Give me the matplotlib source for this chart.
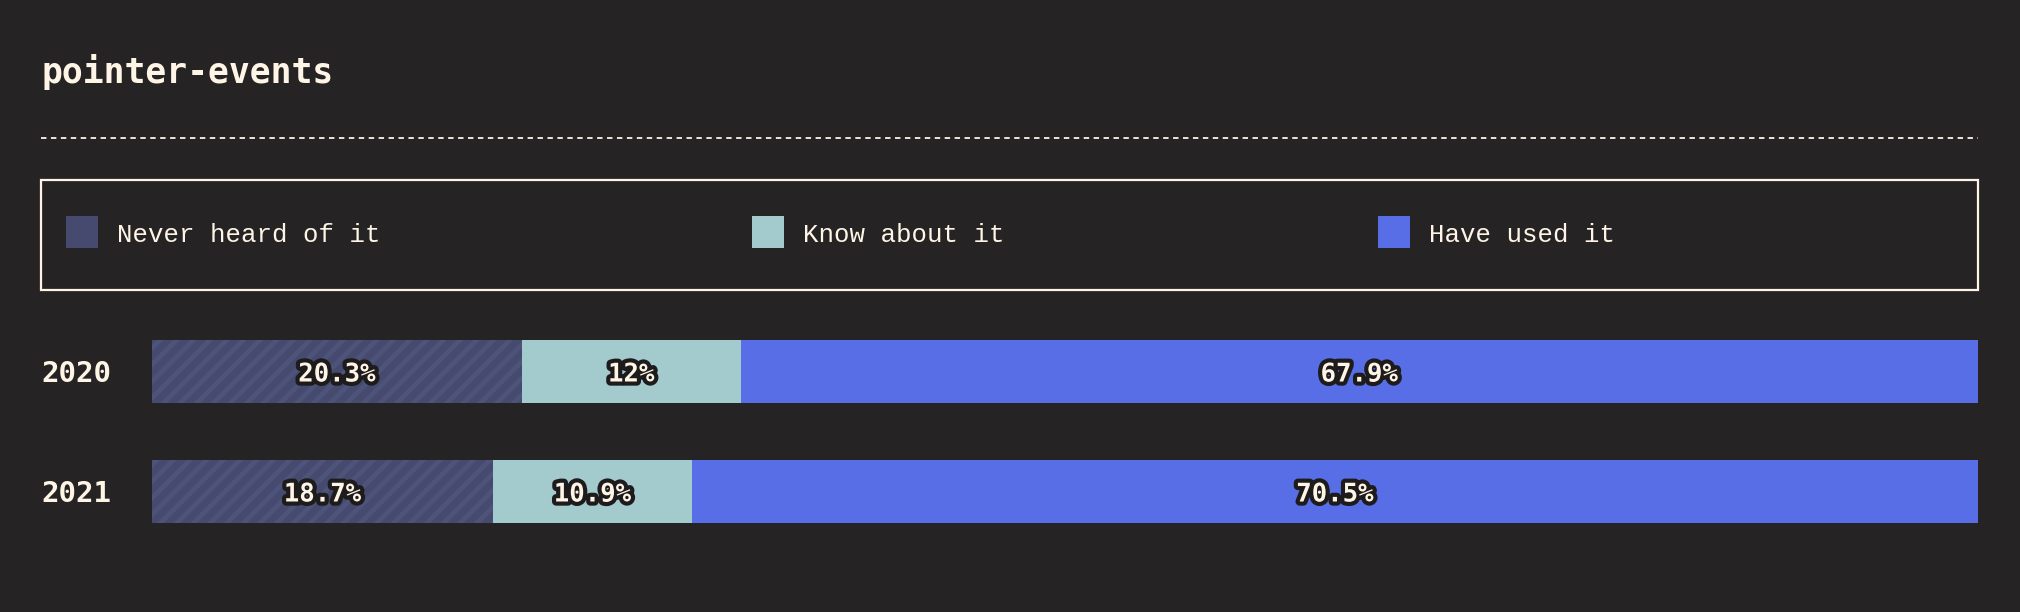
import numpy as np
import matplotlib.pyplot as plt
import matplotlib.patheffects as pe
from matplotlib.patches import Rectangle
from matplotlib.lines import Line2D
from matplotlib.transforms import blended_transform_factory, offset_copy

# data
title = "pointer-events"
years = ["2020", "2021"]
categories = ["Never heard of it", "Know about it", "Have used it"]
never_heard = [20.3, 18.7]
know_about = [12, 10.9]
have_used = [67.9, 70.5]

colors = ["#454a6e", "#a3cbce", "#586ee6"]
bg = "#262324"
cream = "#fff5e6"

plt.rcParams["hatch.linewidth"] = 3.5

W, H = 2020, 612
fig = plt.figure(figsize=(W / 100, H / 100), dpi=100, facecolor=bg)

def fx(px):
    return px / W

def fy(py):
    return 1 - py / H

# title and separator
fig.text(fx(41), fy(83), title, color=cream, fontsize=25, fontweight="bold",
         family="DejaVu Sans Mono", va="baseline", ha="left")
fig.add_artist(Line2D([fx(41), fx(1978)], [fy(138), fy(138)], transform=fig.transFigure,
                      color=cream, lw=1.3, linestyle=(0, (3, 2.5))))

# legend box
fig.add_artist(Rectangle((fx(41), fy(290)), fx(1978) - fx(41), fy(180) - fy(290),
                         transform=fig.transFigure, fill=False, edgecolor=cream, lw=1.6))
leg_x = [66, 752, 1378]
for x0, cat, col in zip(leg_x, categories, colors):
    fig.add_artist(Rectangle((fx(x0), fy(248)), fx(32), fy(216) - fy(248),
                             transform=fig.transFigure, facecolor=col, edgecolor="none"))
    fig.text(fx(x0 + 51), fy(235), cat, color=cream, fontsize=18.5,
             family="Liberation Mono", va="center", ha="left")

# bars
bar_h = 63 / 120
ax = fig.add_axes([fx(152), fy(523), fx(1978) - fx(152), fy(340) - fy(523)])
ax.set_facecolor(bg)
data = np.array([never_heard, know_about, have_used])
totals = data.sum(axis=0)
ypos = np.arange(len(years))
left = np.zeros(len(years))
lbl_trans = offset_copy(ax.transData, fig=fig, x=0, y=-3, units="dots")
for i, (vals, col) in enumerate(zip(data, colors)):
    widths = vals / totals * 100
    if i == 0:
        ax.barh(ypos, widths, left=left, height=bar_h, color=col,
                edgecolor="#4d5379", linewidth=0, hatch="//")
    else:
        ax.barh(ypos, widths, left=left, height=bar_h, color=col, linewidth=0)
    for y, l, w, v in zip(ypos, left, widths, vals):
        ax.text(l + w / 2, y, f"{v:g}%", transform=lbl_trans, color=cream, fontsize=18.5,
                fontweight="bold", family="DejaVu Sans Mono", ha="center", va="center",
                path_effects=[pe.withStroke(linewidth=6, foreground="#1e1b1c")])
    left += widths

ax.set_xlim(0, 100)
ax.set_ylim(len(years) - 1 + bar_h / 2, -bar_h / 2)
ax.axis("off")

trans = offset_copy(blended_transform_factory(fig.transFigure, ax.transData),
                    fig=fig, x=0, y=-3, units="dots")
for y, yr in zip(ypos, years):
    ax.text(fx(41), y, yr, transform=trans, color=cream, fontsize=21, fontweight="bold",
            family="DejaVu Sans Mono", ha="left", va="center")

fig.savefig("out.png", dpi=100, facecolor=bg)
